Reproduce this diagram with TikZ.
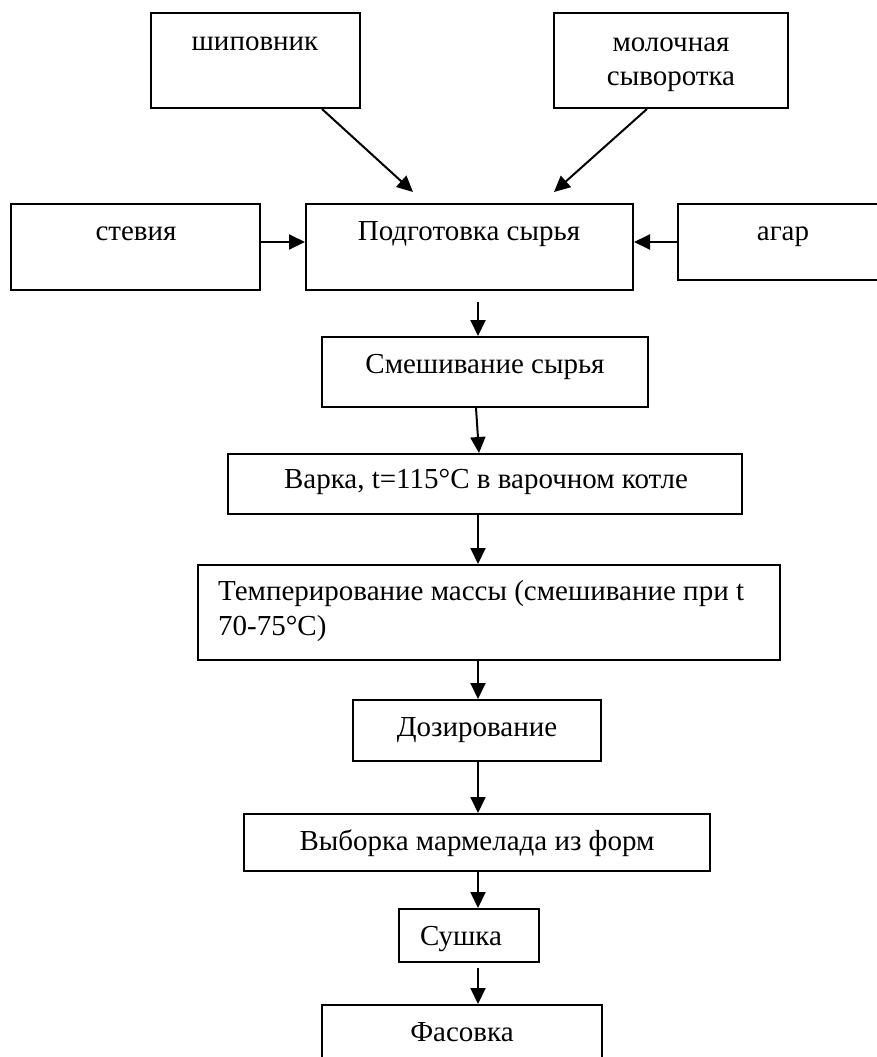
\documentclass[tikz,border=0pt]{standalone}
\usepackage{fontspec}
\setmainfont{Liberation Serif}
\usetikzlibrary{arrows.meta,calc}

\tikzset{
  box/.style={draw=black, line width=2pt, rectangle, inner sep=0pt},
  lbl/.style={inner sep=0pt, text height=20pt, text depth=6pt,
    font=\fontsize{29}{33}\selectfont, text=black},
  arr/.style={draw=black, line width=2pt, -{Triangle[length=16pt,width=15pt]}}
}

\begin{document}
\begin{tikzpicture}[x=1pt, y=-1pt]
  \useasboundingbox (0,0) rectangle (877,1057);

  % frames of the ingredient boxes and process steps
  \node[box, minimum width=209pt, minimum height=95pt] (ship) at (255.5,60.5) {};
  \node[box, minimum width=234pt, minimum height=95pt] (milk) at (671,60.5) {};
  \node[box, minimum width=249pt, minimum height=86pt] (stev) at (135.5,247) {};
  \node[box, minimum width=327pt, minimum height=86pt] (prep) at (469.5,247) {};
  \node[box, minimum width=210pt, minimum height=76pt] (agar) at (783,242) {};
  \node[box, minimum width=326pt, minimum height=70pt] (mix)  at (485,372) {};
  \node[box, minimum width=514pt, minimum height=60pt] (cook) at (485,484) {};
  \node[box, minimum width=582pt, minimum height=95pt] (temp) at (489,612.5) {};
  \node[box, minimum width=248pt, minimum height=61pt] (dose) at (477,730.5) {};
  \node[box, minimum width=466pt, minimum height=57pt] (pick) at (477,842.5) {};
  \node[box, minimum width=140pt, minimum height=53pt] (dry)  at (469,935.5) {};
  \node[box, minimum width=280pt, minimum height=70pt] (pack) at (462,1040) {};

  % captions
  \node[lbl] (tship) at (255,44) {шиповник};
  \node[lbl] (tmilk1) at (671,45) {молочная};
  \node[lbl] (tmilk2) at (671,78) {сыворотка};
  \node[lbl] (tstev) at (136,233) {стевия};
  \node[lbl] (tprep) at (469,233) {Подготовка сырья};
  \node[lbl] (tagar) at (783,233) {агар};
  \node[lbl] (tmix)  at (485,366) {Смешивание сырья};
  \node[lbl] (tcook) at (486,481) {Варка, t=115°C в варочном котле};
  \node[lbl, anchor=west] (ttemp1) at (218,593) {Темперирование массы (смешивание при t};
  \node[lbl, anchor=west] (ttemp2) at (218,628) {70-75°C)};
  \node[lbl] (tdose) at (477,729) {Дозирование};
  \node[lbl] (tpick) at (477,843) {Выборка мармелада из форм};
  \node[lbl] (tdry)  at (461,938) {Сушка};
  \node[lbl] (tpack) at (462,1034) {Фасовка};

  % guide positions for the connectors
  \coordinate (spine) at (478,0);
  \coordinate (row) at (0,242);

  % ingredients into preparation
  \draw[arr] ($(ship.south)+(66.5,0)$) -- ($(prep.north west)+(108,-11)$);
  \draw[arr] ($(milk.south)+(-24,0)$) -- ($(prep.north west)+(249,-11)$);
  \draw[arr] (stev.east |- row) -- (prep.west |- row);
  \draw[arr] (agar.west |- row) -- (prep.east |- row);

  % main process chain
  \draw[arr] ($(prep.south -| spine)+(0,11)$) -- (mix.north -| spine);
  \draw[arr] ($(mix.south -| spine)+(-2,0)$) -- ($(cook.north -| spine)+(1,0)$);
  \draw[arr] (cook.south -| spine) -- (temp.north -| spine);
  \draw[arr] (temp.south -| spine) -- (dose.north -| spine);
  \draw[arr] (dose.south -| spine) -- (pick.north -| spine);
  \draw[arr] (pick.south -| spine) -- (dry.north -| spine);
  \draw[arr] ($(dry.south -| spine)+(0,5)$) -- (pack.north -| spine);
\end{tikzpicture}
\end{document}
